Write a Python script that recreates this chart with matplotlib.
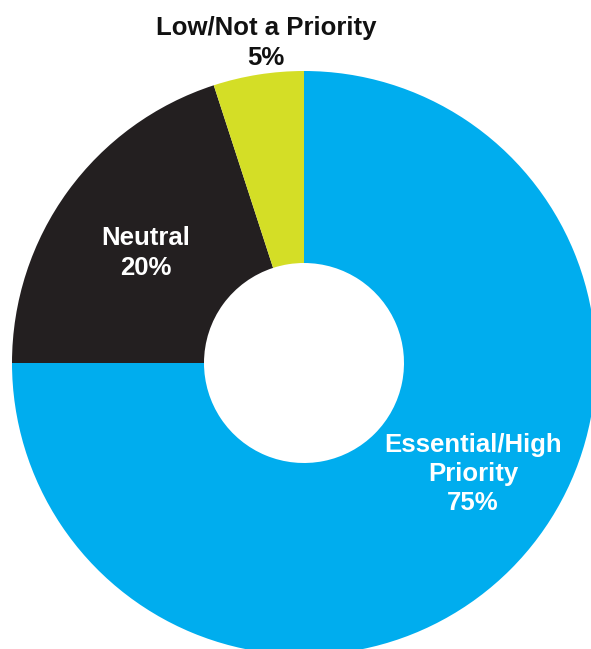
import matplotlib
matplotlib.use("Agg")
import matplotlib.pyplot as plt

# survey answer shares
categories = ["Essential/High\nPriority", "Neutral", "Low/Not a Priority"]
shares = [75, 20, 5]
colors = ["#00ADEE", "#231F20", "#D4DE26"]

plt.rcParams['font.family'] = ['Liberation Sans', 'DejaVu Sans']

W, H = 591, 649
fig = plt.figure(figsize=(W / 100, H / 100), dpi=100)
ax = fig.add_axes([0, 0, 1, 1])

cx, cy = 304, H - 363
r_out = 292
r_in = 100

ax.pie(shares, colors=colors, startangle=90, counterclock=False,
       center=(cx, cy), radius=r_out,
       wedgeprops=dict(width=r_out - r_in, linewidth=0))

ax.set_xlim(0, W)
ax.set_ylim(0, H)
ax.set_aspect('equal')
ax.axis('off')

# label positions in pixel space (x, y from top)
label_pos = [(473, 474), (146, 253), (266, 43)]
label_col = ["white", "white", "#111111"]

for name, val, (x, y), col in zip(categories, shares, label_pos, label_col):
    ax.text(x, H - y, '{0}\n{1}%'.format(name, val),
            ha='center', va='center', color=col,
            fontsize=18.5, fontweight='bold', linespacing=1.28)

fig.savefig('out.png', dpi=100)
plt.close(fig)
